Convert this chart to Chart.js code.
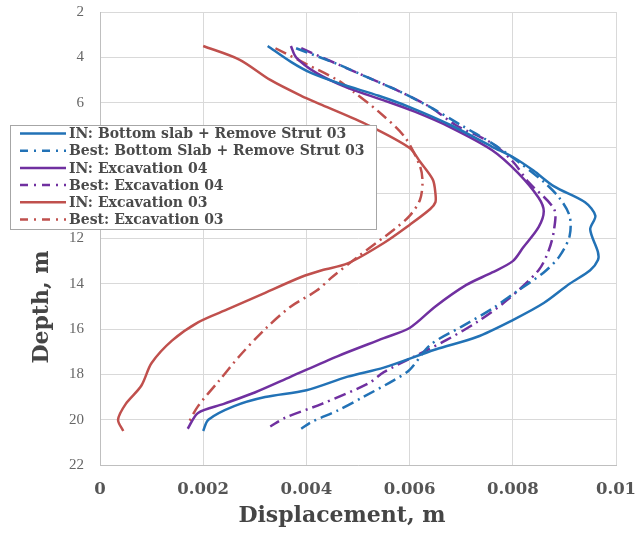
<!DOCTYPE html>
<html>
<head>
<meta charset="utf-8">
<script src="https://cdn.jsdelivr.net/npm/chart.js@4/dist/chart.umd.min.js"></script>
<style>
  html, body { margin: 0; padding: 0; background: #ffffff; }
  #wrap { width: 636px; height: 539px; position: relative; }
</style>
</head>
<body>
<div id="wrap"><canvas id="c" width="636" height="539"></canvas></div>
<script>
// ---- data (displacement in m, depth in m) ----
const seriesNames = [
  'IN: Bottom slab + Remove Strut 03',
  'Best: Bottom Slab + Remove Strut 03',
  'IN: Excavation 04',
  'Best: Excavation 04',
  'IN: Excavation 03',
  'Best: Excavation 03'
];

const inSlabDisp  = [0.00325,0.0037,0.0041,0.0047,0.0054,0.0060,0.0068,0.0076,0.0080,0.0084,0.0088,0.0094,0.0096,0.0095,0.00965,0.00965,0.0095,0.0091,0.0086,0.0080,0.0073,0.0065,0.0055,0.0048,0.0040,0.0032,0.0026,0.0021,0.0020];
const inSlabDepth = [3.5,4.2,4.7,5.2,5.7,6.2,7.0,7.95,8.4,9.0,9.7,10.4,11.0,11.6,12.6,12.95,13.4,14.0,14.85,15.6,16.35,16.9,17.7,18.1,18.7,19.0,19.4,20.0,20.5];

const bestSlabDisp  = [0.0038,0.0046,0.0052,0.0058,0.0064,0.0070,0.0076,0.0081,0.0086,0.0089,0.0091,0.0091,0.0089,0.0086,0.0081,0.0076,0.0070,0.0064,0.0060,0.0057,0.0051,0.0046,0.0041,0.0039];
const bestSlabDepth = [3.6,4.3,4.9,5.5,6.2,7.0,7.8,8.6,9.5,10.2,11.0,11.9,12.8,13.5,14.3,15.1,15.9,16.7,17.8,18.25,19.0,19.6,20.1,20.4];

const inExc04Disp  = [0.0037,0.0038,0.0042,0.0048,0.0055,0.0061,0.0068,0.0076,0.0081,0.0085,0.0086,0.0085,0.0082,0.0080,0.0076,0.0071,0.0065,0.0060,0.0055,0.0046,0.0037,0.0030,0.0024,0.0019,0.0017];
const inExc04Depth = [3.5,4.0,4.7,5.35,5.9,6.4,7.1,8.1,9.1,10.2,10.8,11.5,12.4,13.0,13.5,14.05,15.0,15.95,16.4,17.2,18.1,18.8,19.3,19.7,20.4];

const bestExc04Disp  = [0.0039,0.0046,0.0052,0.0058,0.0064,0.0069,0.0076,0.0080,0.0083,0.0088,0.0088,0.0087,0.0085,0.0079,0.0073,0.0067,0.0061,0.0055,0.0052,0.0043,0.0036,0.0033];
const bestExc04Depth = [3.6,4.3,4.9,5.5,6.2,7.0,7.8,8.6,9.5,10.7,11.6,12.5,13.4,14.7,15.7,16.5,17.2,17.9,18.4,19.3,19.9,20.3];

const inExc03Disp  = [0.0020,0.0027,0.0033,0.0039,0.0043,0.0052,0.0060,0.0062,0.00645,0.0065,0.0065,0.0064,0.0060,0.0055,0.0048,0.0043,0.0039,0.0031,0.0025,0.0019,0.0014,0.0010,0.0008,0.0005,0.00035,0.00045];
const inExc03Depth = [3.5,4.1,5.0,5.7,6.1,7.0,8.0,8.6,9.4,10.0,10.4,10.7,11.4,12.2,13.1,13.4,13.7,14.5,15.1,15.7,16.5,17.5,18.5,19.3,20.0,20.5];

const bestExc03Disp  = [0.0034,0.0040,0.0046,0.0049,0.0054,0.0059,0.0062,0.00625,0.0062,0.0060,0.0057,0.0050,0.0045,0.0042,0.0037,0.0032,0.0027,0.0023,0.0019,0.0017];
const bestExc03Depth = [3.6,4.3,5.0,5.5,6.4,7.5,8.8,9.5,10.3,11.0,11.6,12.8,13.7,14.3,15.0,16.0,17.2,18.3,19.4,20.2];

const xTickValues = [0, 0.002, 0.004, 0.006, 0.008, 0.01];
const yTickValues = [2, 4, 6, 8, 10, 12, 14, 16, 18, 20, 22];
const xTitle = 'Displacement, m';
const yTitle = 'Depth, m';

// ---- styles ----
const BLUE = '#2272B6', PURPLE = '#7030A0', RED = '#C0504D';
const DASHDOT = [12, 5, 2, 5];

function pts(d, z) { return d.map((v, i) => ({ x: v, y: z[i] })); }

const seriesData = [
  [inSlabDisp, inSlabDepth], [bestSlabDisp, bestSlabDepth],
  [inExc04Disp, inExc04Depth], [bestExc04Disp, bestExc04Depth],
  [inExc03Disp, inExc03Depth], [bestExc03Disp, bestExc03Depth]
];
const seriesColor = [BLUE, BLUE, PURPLE, PURPLE, RED, RED];
const seriesDash = [[], DASHDOT, [], DASHDOT, [], DASHDOT];

const datasets = seriesData.map((s, i) => ({
  label: seriesNames[i],
  data: pts(s[0], s[1]),
  showLine: true,
  borderColor: seriesColor[i],
  backgroundColor: seriesColor[i],
  borderWidth: 2.5,
  borderDash: seriesDash[i],
  pointRadius: 0,
  tension: 0.3,
  fill: false
}));

const customPlugin = {
  id: 'customDecor',
  afterDatasetsDraw(chart) {
    const ctx = chart.ctx;
    ctx.save();
    // legend box
    const bx = 10, by = 125, bw = 366, bh = 104;
    ctx.fillStyle = '#ffffff';
    ctx.fillRect(bx, by, bw, bh);
    ctx.strokeStyle = '#a6a6a6';
    ctx.lineWidth = 1;
    ctx.setLineDash([]);
    ctx.strokeRect(bx + 0.5, by + 0.5, bw, bh);
    ctx.font = 'bold 14px "DejaVu Serif"';
    ctx.textBaseline = 'middle';
    ctx.textAlign = 'left';
    seriesNames.forEach((name, i) => {
      const y = 133.5 + i * 17.2;
      ctx.beginPath();
      ctx.strokeStyle = seriesColor[i];
      ctx.lineWidth = 2.5;
      ctx.setLineDash(i % 2 ? [8, 6, 2, 6] : []);
      ctx.moveTo(20, y);
      ctx.lineTo(66, y);
      ctx.stroke();
      ctx.setLineDash([]);
      ctx.fillStyle = '#4a4a4a';
      ctx.fillText(name, 69, y + 1);
    });
    ctx.restore();
  },
  afterDraw(chart) {
    const ctx = chart.ctx;
    ctx.save();
    ctx.fillStyle = '#454545';
    ctx.font = 'bold 22px "DejaVu Serif"';
    ctx.textAlign = 'center';
    ctx.textBaseline = 'middle';
    ctx.fillText(xTitle, 342, 516);
    ctx.translate(42, 307);
    ctx.rotate(-Math.PI / 2);
    ctx.fillText(yTitle, 0, 0);
    ctx.restore();
  }
};

new Chart(document.getElementById('c'), {
  type: 'scatter',
  data: { datasets },
  options: {
    responsive: false,
    animation: false,
    devicePixelRatio: 1,
    layout: { padding: { left: 0, right: 20, top: 12, bottom: 0 } },
    plugins: { legend: { display: false }, tooltip: { enabled: false } },
    scales: {
      x: {
        type: 'linear',
        min: 0, max: 0.01,
        afterBuildTicks(scale) { scale.ticks = xTickValues.map(v => ({ value: v })); },
        afterFit(scale) {
          scale.height = 74;
          scale.paddingLeft = 0; scale.paddingRight = 0;
        },
        grid: { color: '#d9d9d9', lineWidth: 1, drawTicks: false },
        border: { color: '#bfbfbf', width: 1 },
        ticks: {
          padding: 15,
          color: '#555555',
          font: { family: '"DejaVu Serif"', weight: 'bold', size: 16.5 },
          callback: v => String(+v.toFixed(4))
        },
        title: { display: false }
      },
      y: {
        type: 'linear',
        reverse: true,
        min: 2, max: 22,
        afterBuildTicks(scale) { scale.ticks = yTickValues.map(v => ({ value: v })); },
        afterFit(scale) {
          scale.width = 100;
          scale.paddingTop = 0; scale.paddingBottom = 0;
        },
        grid: { color: '#d9d9d9', lineWidth: 1, drawTicks: false },
        border: { color: '#bfbfbf', width: 1 },
        ticks: {
          padding: 16,
          color: '#666666',
          font: { family: '"Liberation Serif"', size: 15 }
        },
        title: { display: false }
      }
    }
  },
  plugins: [customPlugin]
});
</script>
</body>
</html>
